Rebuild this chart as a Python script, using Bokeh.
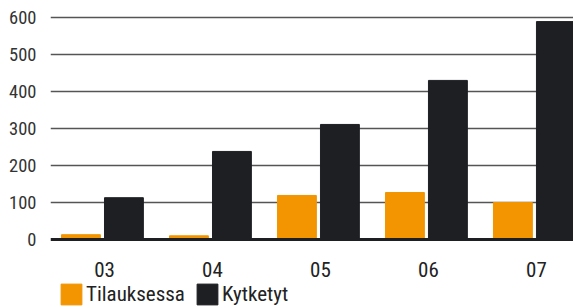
import numpy as np
from bokeh.plotting import figure
from bokeh.models import Range1d, FixedTicker, Legend, LegendItem, Span
from bokeh.core.properties import value
from bokeh.embed import file_html
from bokeh.resources import INLINE

years = ["03", "04", "05", "06", "07"]
tilauksessa = [13, 10, 119, 127, 100]
kytketyt = [113, 238, 311, 430, 589]
y_ticks = [0, 100, 200, 300, 400, 500, 600]

ORANGE = "#F29500"
BLACK = "#1E1F22"
FONT = "Roboto Condensed"

pos = np.arange(len(years)) + 0.5

p = figure(width=573, height=308, output_backend="svg", toolbar_location=None,
           x_range=Range1d(0, 4.843), y_range=Range1d(-186.5, 646),
           min_border_left=50, min_border_right=0, min_border_top=0, min_border_bottom=0)
p.outline_line_color = None
p.background_fill_color = "white"
p.border_fill_color = "white"

r1 = p.vbar(x=pos - 0.218, top=tilauksessa, width=0.36, bottom=0, color=ORANGE)
r2 = p.vbar(x=pos + 0.18, top=kytketyt, width=0.36, bottom=0, color=BLACK)

p.add_layout(Span(location=0, dimension="width", line_color=BLACK, line_width=3))

p.text(x=pos, y=[-82] * len(years), text=years, text_align="center",
       text_baseline="alphabetic", text_font=value(FONT),
       text_font_size="21px", text_color="#222222")

p.xgrid.grid_line_color = None
p.ygrid.ticker = FixedTicker(ticks=y_ticks[1:])
p.ygrid.grid_line_color = "#555555"
p.ygrid.grid_line_width = 1.5

p.xaxis.visible = False
p.yaxis.ticker = FixedTicker(ticks=y_ticks)
p.yaxis.axis_line_color = None
p.yaxis.major_tick_line_color = None
p.yaxis.minor_tick_line_color = None
p.yaxis.major_label_standoff = 8
p.yaxis.major_label_text_font = FONT
p.yaxis.major_label_text_font_size = "18.5px"
p.yaxis.major_label_text_color = "#333333"

legend = Legend(items=[LegendItem(label="Tilauksessa", renderers=[r1]),
                       LegendItem(label="Kytketyt", renderers=[r2])],
                orientation="horizontal", location=(8, 1),
                glyph_width=26, glyph_height=26, label_standoff=2, spacing=9,
                padding=0, margin=0, border_line_color=None,
                background_fill_alpha=0,
                label_text_font=FONT, label_text_font_size="21px",
                label_text_color="#222222", label_height=26)
p.add_layout(legend, "center")

open("out.html", "w").write(file_html(p, INLINE))
